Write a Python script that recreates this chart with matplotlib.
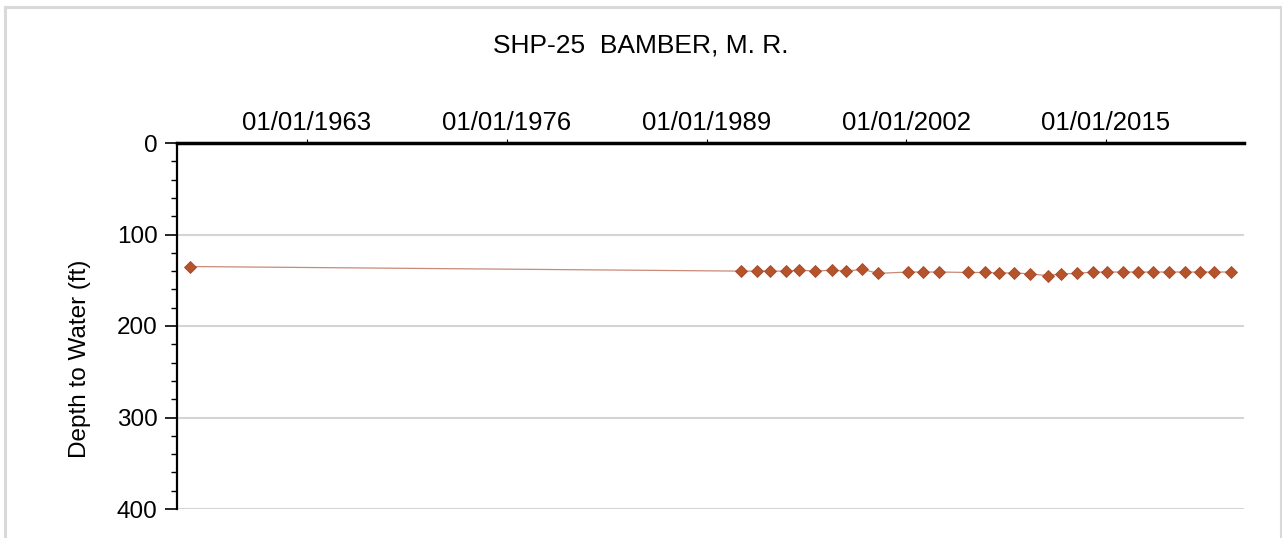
import matplotlib
matplotlib.use("Agg")
import matplotlib.pyplot as plt
from matplotlib.lines import Line2D
from matplotlib.ticker import MultipleLocator
import pandas as pd

plt.rcParams['font.family'] = ['Liberation Sans', 'DejaVu Sans']

# measurement dates and depth to water (ft)
dates = ["1955-05-20", "1991-03-25", "1992-04-05", "1993-03-01", "1994-02-25",
         "1995-01-10", "1996-02-05", "1997-02-20", "1998-02-10", "1999-02-25",
         "2000-03-01", "2002-02-15", "2003-02-05", "2004-02-15", "2006-01-10",
         "2007-02-10", "2008-01-15", "2009-01-10", "2010-02-01", "2011-03-25",
         "2012-01-20", "2013-02-20", "2014-03-01", "2015-02-05", "2016-02-10",
         "2017-02-01", "2018-01-20", "2019-02-05", "2020-02-15", "2021-02-05",
         "2022-01-25", "2023-03-01"]
depth = [135, 140, 140, 140, 140, 139, 140, 139, 140, 138,
         142.5, 141, 141, 141, 141.5, 141.5, 142, 142, 143, 145,
         143, 142.5, 141, 141, 141, 141, 141, 141, 141, 141,
         141, 141]

tick_dates = ["1963-01-01", "1976-01-01", "1989-01-01", "2002-01-01", "2015-01-01"]
tick_labels = ["01/01/1963", "01/01/1976", "01/01/1989", "01/01/2002", "01/01/2015"]
y_ticks = [0, 100, 200, 300, 400]

title = "SHP-25  BAMBER, M. R."
ylabel = "Depth to Water (ft)"

W, H = 1282, 538
fig = plt.figure(figsize=(W / 100, H / 100), dpi=100)
ax = fig.add_axes([177 / W, 1 - 509 / H, (1244 - 177) / W, (509 - 143) / H])

x = pd.to_datetime(dates)
ax.plot(x, depth, color='#c98a78', lw=0.9, zorder=3)
ax.plot(x, depth, ls='none', marker='D', ms=5.8, color='#b5532b',
        markeredgecolor='#a4482a', markeredgewidth=0.6, zorder=4)

ax.set_xlim(pd.Timestamp("1954-07-15"), pd.Timestamp("2023-12-28"))
ax.set_ylim(400, 0)

ax.xaxis.tick_top()
ax.set_xticks(pd.to_datetime(tick_dates))
ax.set_xticklabels(tick_labels)
ax.tick_params(axis='x', which='major', direction='out', length=3, width=0.8,
               pad=2.5, labelsize=18.5, colors='black')

ax.set_yticks(y_ticks)
ax.yaxis.set_minor_locator(MultipleLocator(20))
ax.tick_params(axis='y', which='major', direction='out', length=9, width=1.2,
               pad=5, labelsize=17.5)
ax.tick_params(axis='y', which='minor', direction='out', length=4, width=1.0)

ax.grid(axis='y', which='major', color='#d4d4d4', lw=1.5)
ax.set_axisbelow(True)

for side in ['bottom', 'right']:
    ax.spines[side].set_visible(False)
ax.spines['top'].set_linewidth(2.5)
ax.spines['left'].set_linewidth(1.6)

ax.set_ylabel(ylabel, fontsize=17.5)
ax.yaxis.set_label_coords(-0.081, 0.41)

fig.text(0.5, 1 - 45 / H, title, ha='center', va='center', fontsize=19)

# light grey frame around the figure
frame = dict(color='#d9d9d9', lw=2.2, transform=fig.transFigure)
fig.add_artist(Line2D([4.5 / W, 4.5 / W], [0, 1 - 7 / H], **frame))
fig.add_artist(Line2D([4.5 / W, 1280.5 / W], [1 - 7 / H, 1 - 7 / H], **frame))
fig.add_artist(Line2D([1280.5 / W, 1280.5 / W], [0, 1 - 7 / H], **frame))

fig.savefig("out.png", dpi=100)
